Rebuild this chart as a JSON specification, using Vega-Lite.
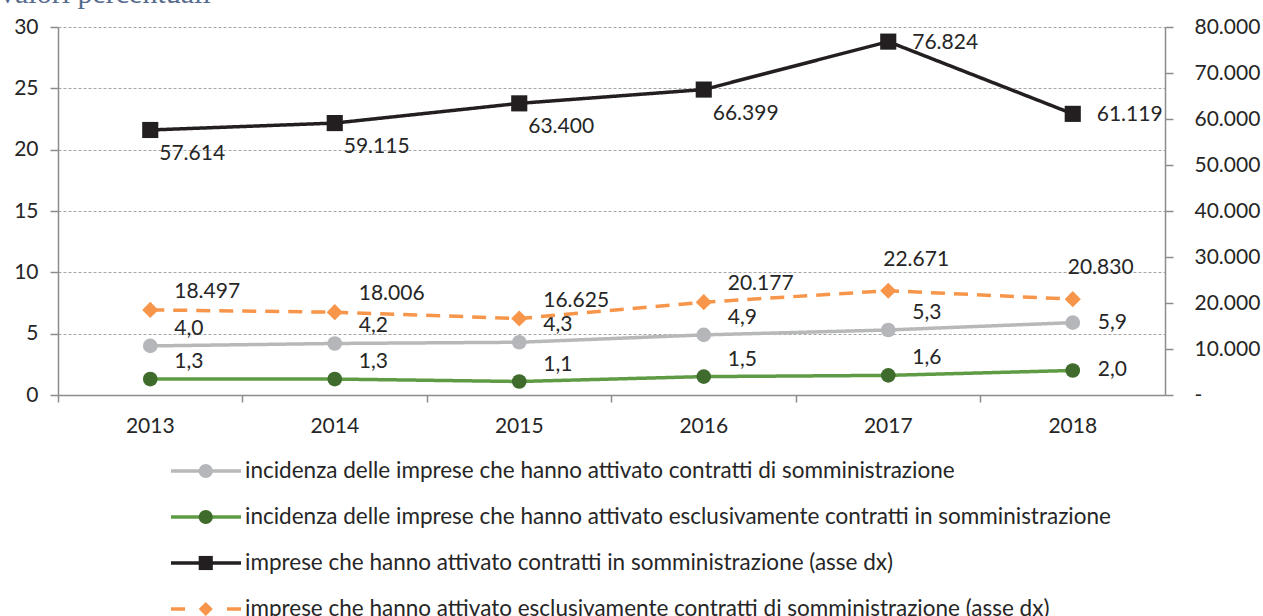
{
  "$schema": "https://vega.github.io/schema/vega-lite/v6.json",
  "width": 1107,
  "height": 368,
  "autosize": {"type": "none"},
  "padding": {"left": 58, "top": 27, "right": 98, "bottom": 221},
  "background": "white",
  "config": {
    "locale": {"number": {"decimal": ",", "thousands": ".", "grouping": [3], "currency": ["€", ""]}},
    "font": "Lato",
    "view": {"stroke": null},
    "axis": {"labelFont": "Lato", "labelFontSize": 21, "labelColor": "#262626", "domainColor": "#8C8C8C", "tickColor": "#8C8C8C", "domainWidth": 1.5, "tickWidth": 1.5, "title": null}
  },
  "title": {"text": "valori percentuali", "anchor": "start", "frame": "group", "dx": -58, "dy": 17, "font": "Liberation Serif", "fontSize": 30, "color": "#566C8E", "fontWeight": "normal", "baseline": "alphabetic", "offset": 0},
  "datasets": {
    "sx": [
      {"anno": "2013", "serie": "incidenza delle imprese che hanno attivato contratti di somministrazione", "valore": 4.0},
      {"anno": "2014", "serie": "incidenza delle imprese che hanno attivato contratti di somministrazione", "valore": 4.2},
      {"anno": "2015", "serie": "incidenza delle imprese che hanno attivato contratti di somministrazione", "valore": 4.3},
      {"anno": "2016", "serie": "incidenza delle imprese che hanno attivato contratti di somministrazione", "valore": 4.9},
      {"anno": "2017", "serie": "incidenza delle imprese che hanno attivato contratti di somministrazione", "valore": 5.3},
      {"anno": "2018", "serie": "incidenza delle imprese che hanno attivato contratti di somministrazione", "valore": 5.9},
      {"anno": "2013", "serie": "incidenza delle imprese che hanno attivato esclusivamente contratti in somministrazione", "valore": 1.3},
      {"anno": "2014", "serie": "incidenza delle imprese che hanno attivato esclusivamente contratti in somministrazione", "valore": 1.3},
      {"anno": "2015", "serie": "incidenza delle imprese che hanno attivato esclusivamente contratti in somministrazione", "valore": 1.1},
      {"anno": "2016", "serie": "incidenza delle imprese che hanno attivato esclusivamente contratti in somministrazione", "valore": 1.5},
      {"anno": "2017", "serie": "incidenza delle imprese che hanno attivato esclusivamente contratti in somministrazione", "valore": 1.6},
      {"anno": "2018", "serie": "incidenza delle imprese che hanno attivato esclusivamente contratti in somministrazione", "valore": 2.0}
    ],
    "dx": [
      {"anno": "2013", "serie": "imprese che hanno attivato contratti in somministrazione (asse dx)", "valore": 57614},
      {"anno": "2014", "serie": "imprese che hanno attivato contratti in somministrazione (asse dx)", "valore": 59115},
      {"anno": "2015", "serie": "imprese che hanno attivato contratti in somministrazione (asse dx)", "valore": 63400},
      {"anno": "2016", "serie": "imprese che hanno attivato contratti in somministrazione (asse dx)", "valore": 66399},
      {"anno": "2017", "serie": "imprese che hanno attivato contratti in somministrazione (asse dx)", "valore": 76824},
      {"anno": "2018", "serie": "imprese che hanno attivato contratti in somministrazione (asse dx)", "valore": 61119},
      {"anno": "2013", "serie": "imprese che hanno attivato esclusivamente contratti di somministrazione (asse dx)", "valore": 18497},
      {"anno": "2014", "serie": "imprese che hanno attivato esclusivamente contratti di somministrazione (asse dx)", "valore": 18006},
      {"anno": "2015", "serie": "imprese che hanno attivato esclusivamente contratti di somministrazione (asse dx)", "valore": 16625},
      {"anno": "2016", "serie": "imprese che hanno attivato esclusivamente contratti di somministrazione (asse dx)", "valore": 20177},
      {"anno": "2017", "serie": "imprese che hanno attivato esclusivamente contratti di somministrazione (asse dx)", "valore": 22671},
      {"anno": "2018", "serie": "imprese che hanno attivato esclusivamente contratti di somministrazione (asse dx)", "valore": 20830}
    ]
  },
  "layer": [
    {
      "data": {"name": "sx"},
      "encoding": {
        "x": {"field": "anno", "type": "ordinal", "scale": {"type": "band", "paddingInner": 0, "paddingOuter": 0}, "axis": {"orient": "bottom", "ticks": false, "labelPadding": 20, "labelAngle": 0, "domain": true, "grid": false}},
        "y": {"field": "valore", "type": "quantitative", "scale": {"domain": [0, 30], "nice": false, "zero": true}, "axis": {"orient": "left", "values": [0, 5, 10, 15, 20, 25, 30], "grid": true, "gridDash": [3, 2], "gridColor": "#A6A6A6", "gridWidth": 1, "tickSize": 8, "labelPadding": 12, "format": "d"}}
      },
      "layer": [
        {
          "mark": {"type": "line", "strokeWidth": 3.5},
          "encoding": {
            "stroke": {"field": "serie", "type": "nominal", "sort": ["incidenza delle imprese che hanno attivato contratti di somministrazione", "incidenza delle imprese che hanno attivato esclusivamente contratti in somministrazione", "imprese che hanno attivato contratti in somministrazione (asse dx)", "imprese che hanno attivato esclusivamente contratti di somministrazione (asse dx)"], "scale": {"range": ["#B7B8BA", "#5E9B44", "#231F20", "#F7964A"]}, "legend": {"title": null, "orient": "none", "legendX": 111, "legendY": 431, "direction": "vertical", "symbolType": "stroke", "symbolSize": 4900, "symbolStrokeWidth": 3.5, "clipHeight": 26, "rowPadding": 20, "labelOffset": 2, "labelFontSize": 22.5, "labelFont": "Lato", "labelColor": "#262626", "labelLimit": 1100, "encode": {"symbols": {"update": {"strokeDash": {"signal": "datum.value === 'imprese che hanno attivato esclusivamente contratti di somministrazione (asse dx)' ? [14, 42] : [1, 0]"}}}}}},
            "strokeDash": {"field": "serie", "type": "nominal", "sort": ["incidenza delle imprese che hanno attivato contratti di somministrazione", "incidenza delle imprese che hanno attivato esclusivamente contratti in somministrazione", "imprese che hanno attivato contratti in somministrazione (asse dx)", "imprese che hanno attivato esclusivamente contratti di somministrazione (asse dx)"], "scale": {"range": [[1, 0], [1, 0], [1, 0], [14, 9]]}, "legend": null}
          }
        },
        {
          "mark": {"type": "point", "filled": true, "opacity": 1, "strokeWidth": 0},
          "encoding": {
            "fill": {"field": "serie", "type": "nominal", "scale": {"domain": ["incidenza delle imprese che hanno attivato contratti di somministrazione", "incidenza delle imprese che hanno attivato esclusivamente contratti in somministrazione", "imprese che hanno attivato contratti in somministrazione (asse dx)", "imprese che hanno attivato esclusivamente contratti di somministrazione (asse dx)"], "range": ["#B5B6B9", "#3F6B2C", "#231F20", "#F7964A"]}, "legend": {"title": null, "orient": "none", "legendX": 111, "legendY": 431, "direction": "vertical", "symbolSize": 200, "symbolStrokeWidth": 0, "symbolOffset": 25.5, "symbolOpacity": 1, "clipHeight": 26, "rowPadding": 20, "labelOffset": 2, "labelFontSize": 22.5, "labelFont": "Lato", "labelColor": "transparent", "labelLimit": 1100}},
            "shape": {"field": "serie", "type": "nominal", "scale": {"domain": ["incidenza delle imprese che hanno attivato contratti di somministrazione", "incidenza delle imprese che hanno attivato esclusivamente contratti in somministrazione", "imprese che hanno attivato contratti in somministrazione (asse dx)", "imprese che hanno attivato esclusivamente contratti di somministrazione (asse dx)"], "range": ["circle", "circle", "square", "diamond"]}, "legend": {"title": null, "orient": "none", "legendX": 111, "legendY": 431, "direction": "vertical", "symbolSize": 200, "symbolStrokeWidth": 0, "symbolOffset": 25.5, "symbolOpacity": 1, "clipHeight": 26, "rowPadding": 20, "labelOffset": 2, "labelFontSize": 22.5, "labelFont": "Lato", "labelColor": "transparent", "labelLimit": 1100}},
            "size": {"value": 215}
          }
        },
        {
          "transform": [{"filter": "datum.anno !== '2018'"}],
          "mark": {"type": "text", "align": "left", "baseline": "middle", "dx": 24, "dy": -17, "fontSize": 21, "font": "Lato", "color": "#262626"},
          "encoding": {"text": {"field": "valore", "type": "quantitative", "format": ".1f"}}
        },
        {
          "transform": [{"filter": "datum.anno === '2018'"}],
          "mark": {"type": "text", "align": "left", "baseline": "middle", "dx": 25, "dy": 0, "fontSize": 21, "font": "Lato", "color": "#262626"},
          "encoding": {"text": {"field": "valore", "type": "quantitative", "format": ".1f"}}
        }
      ]
    },
    {
      "data": {"name": "dx"},
      "encoding": {
        "x": {"field": "anno", "type": "ordinal", "scale": {"type": "band", "paddingInner": 0, "paddingOuter": 0}, "axis": {"orient": "bottom", "ticks": true, "tickSize": 7, "bandPosition": 0, "labels": false, "domain": false, "grid": false}},
        "y": {"field": "valore", "type": "quantitative", "scale": {"domain": [0, 80000], "nice": false, "zero": true}, "axis": {"orient": "right", "values": [0, 10000, 20000, 30000, 40000, 50000, 60000, 70000, 80000], "grid": false, "tickSize": 8, "labelPadding": 21, "format": ",.0f", "labelExpr": "datum.value === 0 ? '-' : datum.label"}}
      },
      "layer": [
        {
          "mark": {"type": "line", "strokeWidth": 3.5},
          "encoding": {
            "stroke": {"field": "serie", "type": "nominal", "sort": ["incidenza delle imprese che hanno attivato contratti di somministrazione", "incidenza delle imprese che hanno attivato esclusivamente contratti in somministrazione", "imprese che hanno attivato contratti in somministrazione (asse dx)", "imprese che hanno attivato esclusivamente contratti di somministrazione (asse dx)"], "scale": {"range": ["#B7B8BA", "#5E9B44", "#231F20", "#F7964A"]}, "legend": {"title": null, "orient": "none", "legendX": 111, "legendY": 431, "direction": "vertical", "symbolType": "stroke", "symbolSize": 4900, "symbolStrokeWidth": 3.5, "clipHeight": 26, "rowPadding": 20, "labelOffset": 2, "labelFontSize": 22.5, "labelFont": "Lato", "labelColor": "#262626", "labelLimit": 1100, "encode": {"symbols": {"update": {"strokeDash": {"signal": "datum.value === 'imprese che hanno attivato esclusivamente contratti di somministrazione (asse dx)' ? [14, 42] : [1, 0]"}}}}}},
            "strokeDash": {"field": "serie", "type": "nominal", "sort": ["incidenza delle imprese che hanno attivato contratti di somministrazione", "incidenza delle imprese che hanno attivato esclusivamente contratti in somministrazione", "imprese che hanno attivato contratti in somministrazione (asse dx)", "imprese che hanno attivato esclusivamente contratti di somministrazione (asse dx)"], "scale": {"range": [[1, 0], [1, 0], [1, 0], [14, 9]]}, "legend": null}
          }
        },
        {
          "mark": {"type": "point", "filled": true, "opacity": 1, "strokeWidth": 0},
          "encoding": {
            "fill": {"field": "serie", "type": "nominal", "scale": {"domain": ["incidenza delle imprese che hanno attivato contratti di somministrazione", "incidenza delle imprese che hanno attivato esclusivamente contratti in somministrazione", "imprese che hanno attivato contratti in somministrazione (asse dx)", "imprese che hanno attivato esclusivamente contratti di somministrazione (asse dx)"], "range": ["#B5B6B9", "#3F6B2C", "#231F20", "#F7964A"]}, "legend": {"title": null, "orient": "none", "legendX": 111, "legendY": 431, "direction": "vertical", "symbolSize": 200, "symbolStrokeWidth": 0, "symbolOffset": 25.5, "symbolOpacity": 1, "clipHeight": 26, "rowPadding": 20, "labelOffset": 2, "labelFontSize": 22.5, "labelFont": "Lato", "labelColor": "transparent", "labelLimit": 1100}},
            "shape": {"field": "serie", "type": "nominal", "scale": {"domain": ["incidenza delle imprese che hanno attivato contratti di somministrazione", "incidenza delle imprese che hanno attivato esclusivamente contratti in somministrazione", "imprese che hanno attivato contratti in somministrazione (asse dx)", "imprese che hanno attivato esclusivamente contratti di somministrazione (asse dx)"], "range": ["circle", "circle", "square", "diamond"]}, "legend": {"title": null, "orient": "none", "legendX": 111, "legendY": 431, "direction": "vertical", "symbolSize": 200, "symbolStrokeWidth": 0, "symbolOffset": 25.5, "symbolOpacity": 1, "clipHeight": 26, "rowPadding": 20, "labelOffset": 2, "labelFontSize": 22.5, "labelFont": "Lato", "labelColor": "transparent", "labelLimit": 1100}},
            "size": {"value": 260}
          }
        },
        {
          "transform": [{"filter": "datum.serie === 'imprese che hanno attivato contratti in somministrazione (asse dx)' && datum.anno <= '2016'"}],
          "mark": {"type": "text", "align": "left", "baseline": "middle", "dx": 9, "dy": 24, "fontSize": 21, "font": "Lato", "color": "#262626"},
          "encoding": {"text": {"field": "valore", "type": "quantitative", "format": ",.0f"}}
        },
        {
          "transform": [{"filter": "datum.serie === 'imprese che hanno attivato contratti in somministrazione (asse dx)' && datum.anno > '2016'"}],
          "mark": {"type": "text", "align": "left", "baseline": "middle", "dx": 24, "dy": 1, "fontSize": 21, "font": "Lato", "color": "#262626"},
          "encoding": {"text": {"field": "valore", "type": "quantitative", "format": ",.0f"}}
        },
        {
          "transform": [{"filter": "datum.serie === 'imprese che hanno attivato esclusivamente contratti di somministrazione (asse dx)' && datum.anno <= '2016'"}],
          "mark": {"type": "text", "align": "left", "baseline": "middle", "dx": 24, "dy": -18, "fontSize": 21, "font": "Lato", "color": "#262626"},
          "encoding": {"text": {"field": "valore", "type": "quantitative", "format": ",.0f"}}
        },
        {
          "transform": [{"filter": "datum.serie === 'imprese che hanno attivato esclusivamente contratti di somministrazione (asse dx)' && datum.anno > '2016'"}],
          "mark": {"type": "text", "align": "left", "baseline": "middle", "dx": -5, "dy": -31, "fontSize": 21, "font": "Lato", "color": "#262626"},
          "encoding": {"text": {"field": "valore", "type": "quantitative", "format": ",.0f"}}
        }
      ]
    }
  ],
  "resolve": {"scale": {"y": "independent"}, "axis": {"x": "independent", "y": "independent"}}
}
